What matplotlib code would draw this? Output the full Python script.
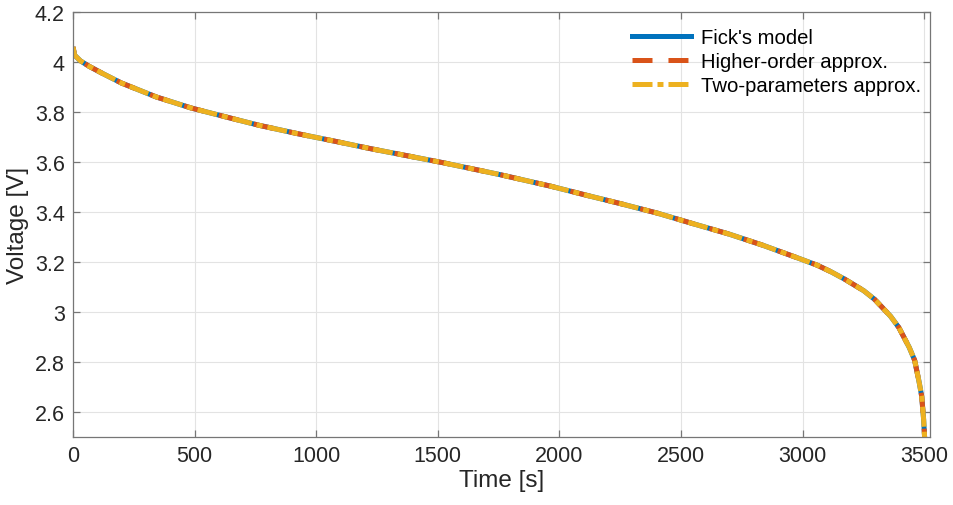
import matplotlib
matplotlib.use('Agg')
from matplotlib import pyplot as plt
from matplotlib.lines import Line2D
from matplotlib.ticker import FuncFormatter

# discharge curve (all three models overlap)
time_s = [0, 7, 30, 66, 120, 199, 343, 486, 630, 764, 925, 1077, 1225, 1374,
          1522, 1753, 1965, 2111, 2257, 2404, 2550, 2696, 2836, 2980, 3060,
          3118, 3173, 3251, 3296, 3361, 3395, 3438, 3460, 3479, 3489, 3497,
          3502]
fick_v = [4.06, 4.027, 4.005, 3.983, 3.955, 3.916, 3.860, 3.816, 3.780, 3.747,
          3.713, 3.683, 3.653, 3.625, 3.597, 3.550, 3.503, 3.467, 3.432, 3.395,
          3.353, 3.312, 3.267, 3.216, 3.187, 3.160, 3.131, 3.085, 3.050, 2.983,
          2.938, 2.858, 2.807, 2.717, 2.663, 2.570, 2.480]
higher_v = list(fick_v)
two_v = list(fick_v)

labels = ["Fick's model", "Higher-order approx.", "Two-parameters approx."]
colors = ['#0072BD', '#D95319', '#EDB120']

plt.rcParams['font.family'] = ['Liberation Sans', 'DejaVu Sans']
plt.rcParams['lines.scale_dashes'] = False

fig = plt.figure(figsize=(9.54, 5.06), dpi=100)
ax = fig.add_axes([0.0765, 0.1344, 0.8983, 0.8399])

lw = 3.6
red_dash = (14.4, 11.5)
yellow_dash = (14.4, 3.6, 4.3, 3.6)
ax.plot(time_s, fick_v, color=colors[0], lw=lw, solid_capstyle='butt')
ax.plot(time_s, higher_v, color=colors[1], lw=lw, linestyle=(10.1, red_dash))
ax.plot(time_s, two_v, color=colors[2], lw=lw, linestyle=(0, yellow_dash))

ax.set_xlim(0, 3523)
ax.set_ylim(2.5, 4.2)
ax.set_xticks(range(0, 3501, 500))
ax.set_yticks([2.6, 2.8, 3.0, 3.2, 3.4, 3.6, 3.8, 4.0, 4.2])
ax.yaxis.set_major_formatter(FuncFormatter(lambda v, p: ('%g' % round(v, 2))))

ax.grid(True, color='#e3e3e3', lw=0.8)
ax.set_axisbelow(True)
for s in ax.spines.values():
    s.set_color('#767676')
    s.set_linewidth(0.9)
ax.tick_params(direction='in', length=5, width=0.9, color='#767676',
               top=True, right=True, labelsize=15.5, labelcolor='#262626', pad=6)

ax.set_xlabel('Time [s]', fontsize=17.5, color='#262626', labelpad=2)
ax.set_ylabel('Voltage [V]', fontsize=17.5, color='#262626', labelpad=4)

handles = [Line2D([], [], color=colors[0], lw=lw),
           Line2D([], [], color=colors[1], lw=lw, linestyle=(0, red_dash)),
           Line2D([], [], color=colors[2], lw=lw, linestyle=(0, yellow_dash))]
ax.legend(handles, labels, loc='upper left', bbox_to_anchor=(0.652, 0.963),
          frameon=False, fontsize=14.6, handlelength=2.9, handletextpad=0.5,
          labelspacing=0.25, borderpad=0, borderaxespad=0)

plt.savefig('out.png', dpi=100)
print('done')
